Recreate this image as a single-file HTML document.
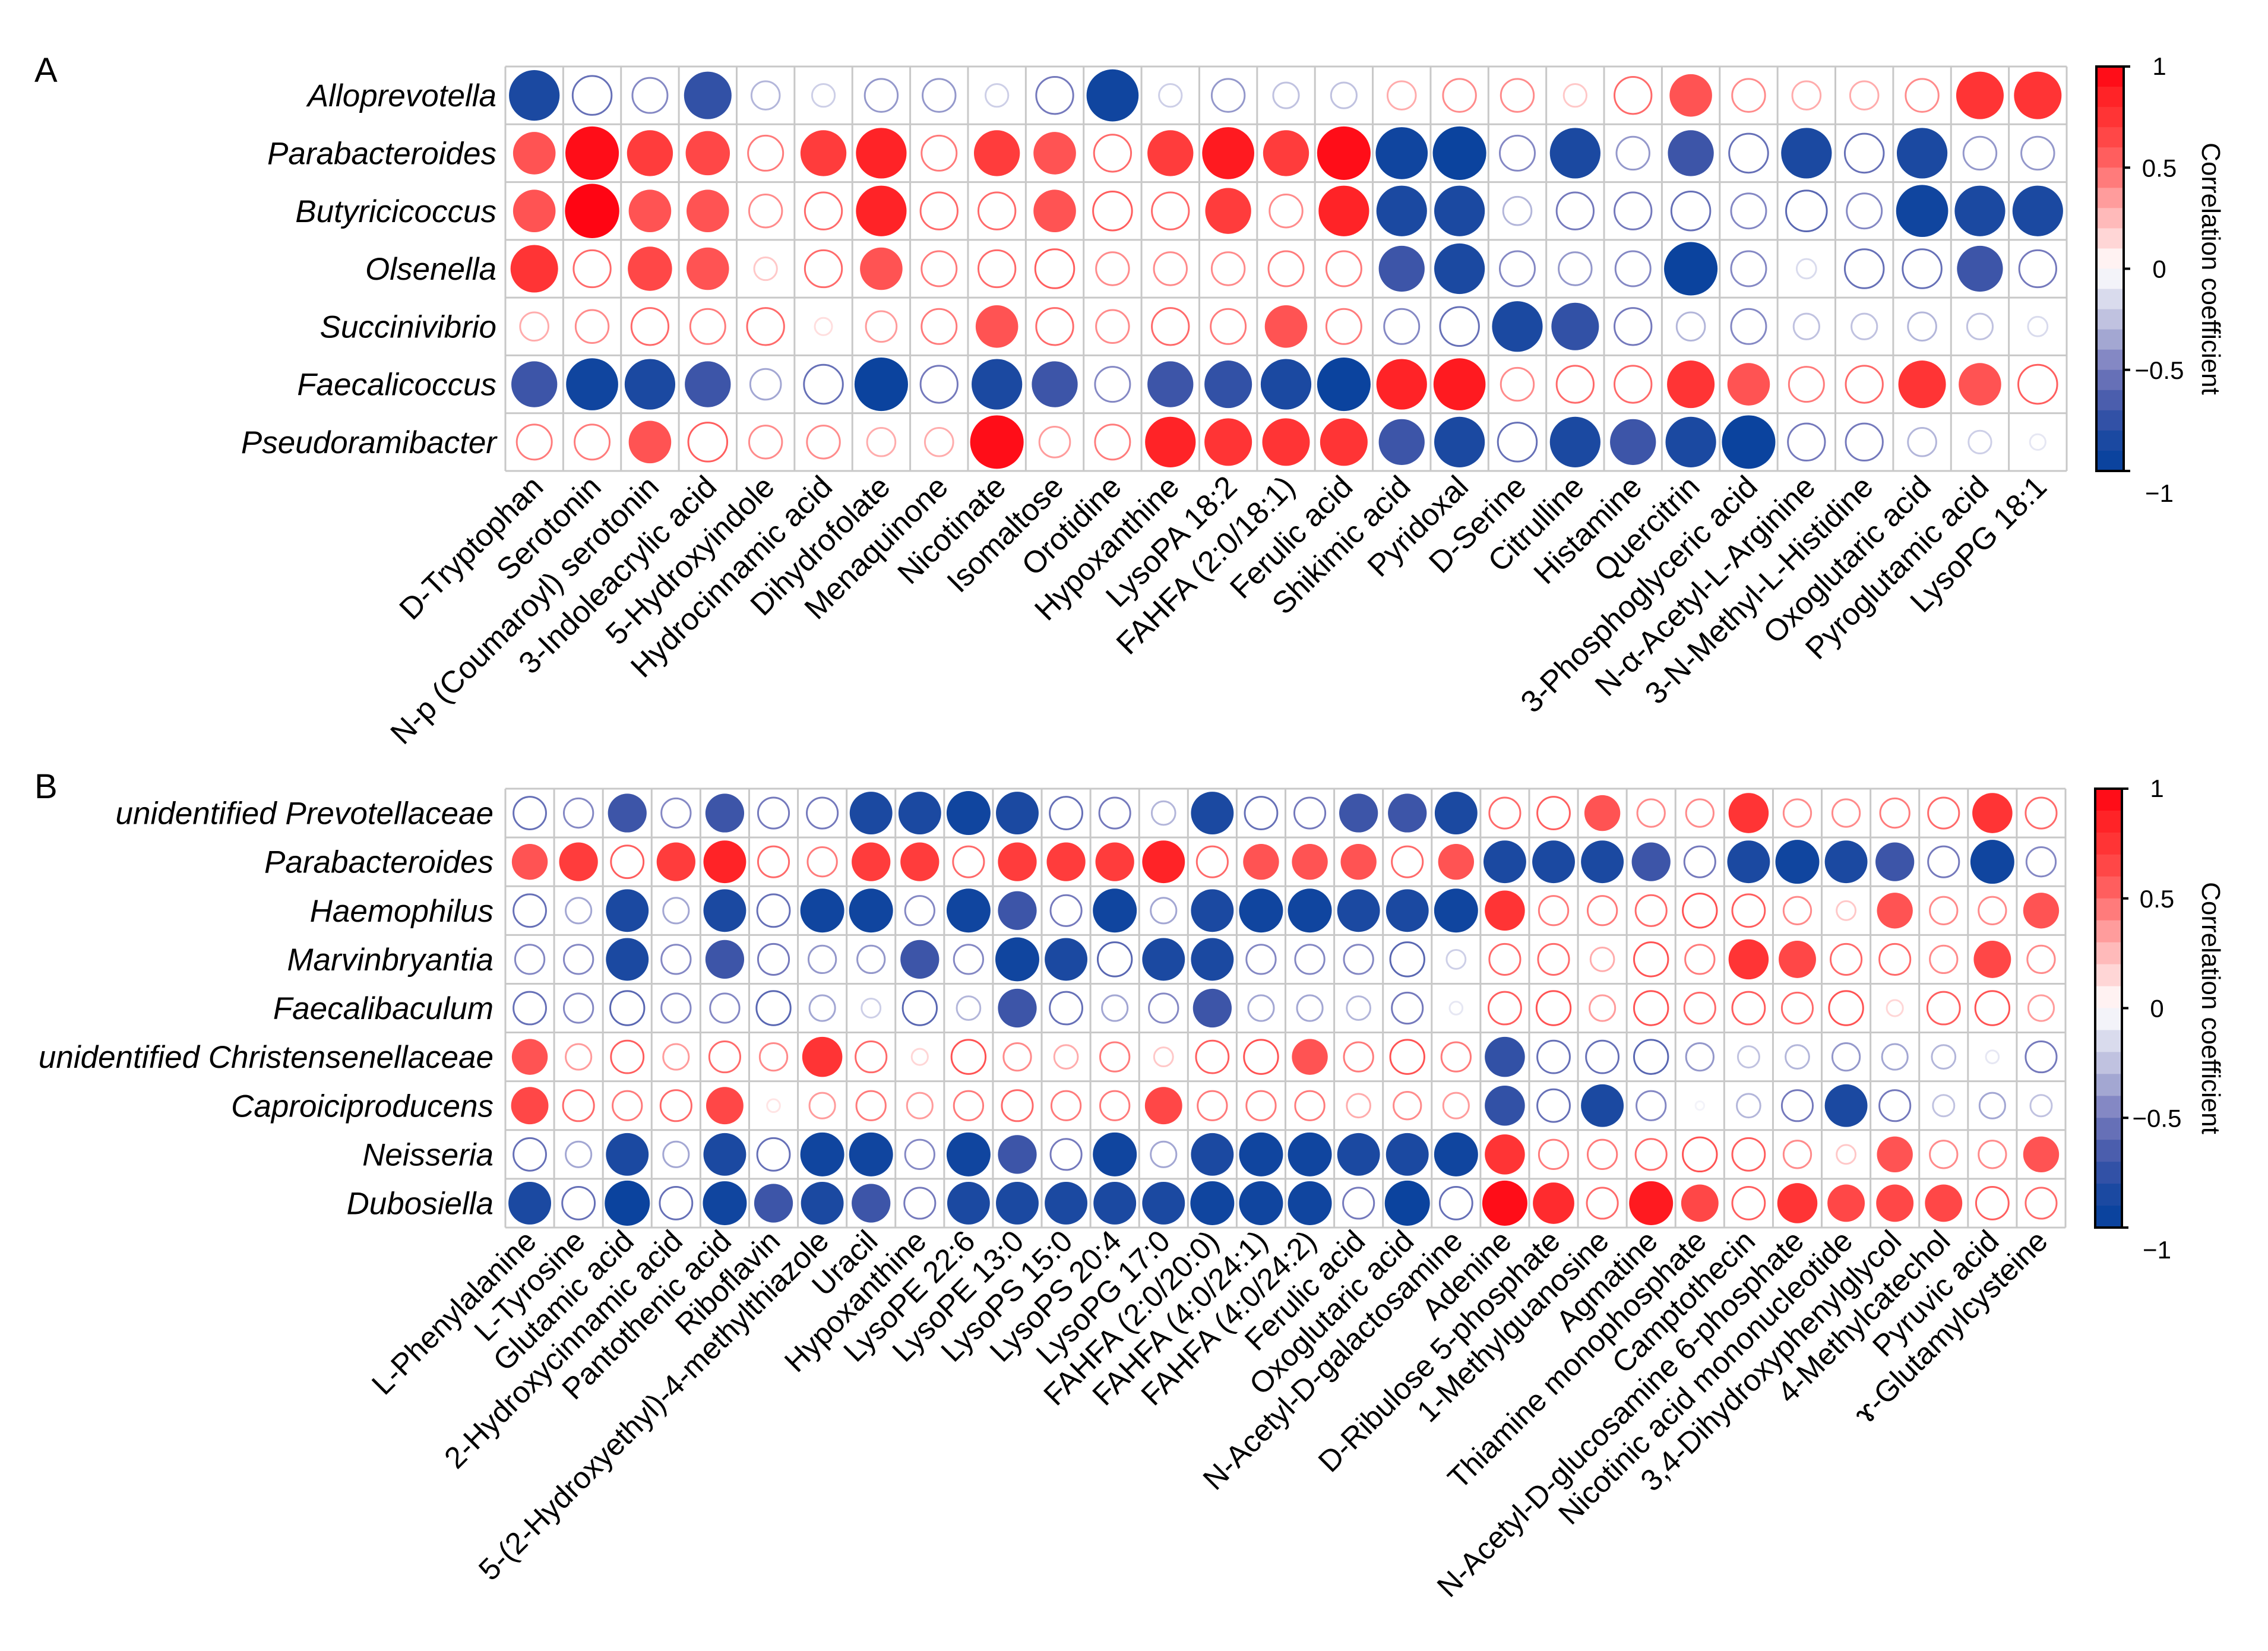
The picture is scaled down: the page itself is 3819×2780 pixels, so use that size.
<!DOCTYPE html>
<html><head><meta charset="utf-8">
<style>
html,body{margin:0;padding:0;background:#fff;}
svg{display:block;font-family:"Liberation Sans",Arial,sans-serif;}
</style></head>
<body>
<svg id="chart" xmlns="http://www.w3.org/2000/svg" width="3819" height="2780" viewBox="0 0 3819 2780">
<rect width="3819" height="2780" fill="#fff"/>
<text x="58" y="138" font-size="58">A</text>
<text x="58" y="1344" font-size="58">B</text>
<g id="pa"></g>
<g id="pb"></g>
</svg>
<script>
// ---------- Panel A data ----------
const rowsA = ["Alloprevotella","Parabacteroides","Butyricicoccus","Olsenella","Succinivibrio","Faecalicoccus","Pseudoramibacter"];
const colsA = ["D-Tryptophan","Serotonin","N-p (Coumaroyl) serotonin","3-Indoleacrylic acid","5-Hydroxyindole","Hydrocinnamic acid","Dihydrofolate","Menaquinone","Nicotinate","Isomaltose","Orotidine","Hypoxanthine","LysoPA 18:2","FAHFA (2:0/18:1)","Ferulic acid","Shikimic acid","Pyridoxal","D-Serine","Citrulline","Histamine","Quercitrin","3-Phosphoglyceric acid","N-\u03b1-Acetyl-L-Arginine","3-N-Methyl-L-Histidine","Oxoglutaric acid","Pyroglutamic acid","LysoPG 18:1"];
const valsA1 = [-0.85,-0.55,-0.45,-0.75,-0.3,-0.2,-0.4,-0.4,-0.2,-0.5,-0.9,-0.2,-0.4,-0.25,-0.25,0.3,0.4,0.4,0.2,0.5,0.6,0.4,0.3,0.3,0.4,0.75,0.75];
const valsA2 = [0.6,0.95,0.7,0.65,0.45,0.7,0.85,0.45,0.7,0.6,0.5,0.7,0.9,0.7,0.95,-0.9,-0.95,-0.45,-0.85,-0.4,-0.7,-0.55,-0.85,-0.55,-0.85,-0.4,-0.4];
const valsA3 = [0.6,0.98,0.6,0.6,0.4,0.5,0.85,0.5,0.5,0.6,0.55,0.5,0.7,0.4,0.85,-0.85,-0.85,-0.3,-0.5,-0.5,-0.55,-0.45,-0.6,-0.45,-0.9,-0.85,-0.85];
const valsA4 = [0.75,0.5,0.65,0.6,0.2,0.5,0.6,0.45,0.5,0.55,0.4,0.4,0.4,0.45,0.45,-0.7,-0.85,-0.45,-0.4,-0.45,-0.95,-0.45,-0.15,-0.55,-0.55,-0.7,-0.5];
const valsA5 = [0.3,0.4,0.5,0.45,0.5,0.12,0.35,0.45,0.6,0.5,0.4,0.5,0.45,0.6,0.45,-0.45,-0.55,-0.85,-0.75,-0.5,-0.3,-0.45,-0.25,-0.25,-0.3,-0.25,-0.15];
const valsA6 = [-0.7,-0.9,-0.85,-0.7,-0.35,-0.55,-0.95,-0.5,-0.85,-0.7,-0.45,-0.7,-0.75,-0.85,-0.95,0.85,0.9,0.4,0.5,0.5,0.75,0.6,0.45,0.5,0.75,0.6,0.55];
const valsA7 = [0.45,0.45,0.6,0.55,0.4,0.4,0.3,0.3,0.95,0.35,0.45,0.85,0.75,0.75,0.75,-0.7,-0.85,-0.55,-0.85,-0.7,-0.85,-0.95,-0.5,-0.5,-0.3,-0.2,-0.1];
// significance (1 = filled)
const sigA1 = "100100000010000000001000011";
const sigA2 = "111101101101111110101010100";
const sigA3 = "111100100100101110000000111";
const sigA4 = "101100100000000110001000010";
const sigA5 = "000000001000010001100000000";
const sigA6 = "111100101101111110001100110";
const sigA7 = "001000001001111110111100000";

// ---------- Panel B data ----------
const rowsB = ["unidentified Prevotellaceae","Parabacteroides","Haemophilus","Marvinbryantia","Faecalibaculum","unidentified Christensenellaceae","Caproiciproducens","Neisseria","Dubosiella"];
const colsB = ["L-Phenylalanine","L-Tyrosine","Glutamic acid","2-Hydroxycinnamic acid","Pantothenic acid","Riboflavin","5-(2-Hydroxyethyl)-4-methylthiazole","Uracil","Hypoxanthine","LysoPE 22:6","LysoPE 13:0","LysoPS 15:0","LysoPS 20:4","LysoPG 17:0","FAHFA (2:0/20:0)","FAHFA (4:0/24:1)","FAHFA (4:0/24:2)","Ferulic acid","Oxoglutaric acid","N-Acetyl-D-galactosamine","Adenine","D-Ribulose 5-phosphate","1-Methylguanosine","Agmatine","Thiamine monophosphate","Camptothecin","N-Acetyl-D-glucosamine 6-phosphate","Nicotinic acid mononucleotide","3,4-Dihydroxyphenylglycol","4-Methylcatechol","Pyruvic acid","\u0264-Glutamylcysteine"];
const valsB1 = [-0.55,-0.45,-0.7,-0.45,-0.7,-0.5,-0.5,-0.85,-0.85,-0.9,-0.85,-0.55,-0.5,-0.3,-0.85,-0.55,-0.5,-0.7,-0.7,-0.85,0.5,0.55,0.6,0.4,0.4,0.75,0.4,0.4,0.45,0.5,0.75,0.5];
const valsB2 = [0.6,0.7,0.55,0.7,0.85,0.5,0.45,0.7,0.7,0.5,0.7,0.7,0.7,0.85,0.5,0.6,0.6,0.6,0.5,0.6,-0.85,-0.85,-0.85,-0.7,-0.5,-0.85,-0.9,-0.85,-0.7,-0.5,-0.9,-0.45];
const valsB3 = [-0.55,-0.35,-0.85,-0.35,-0.85,-0.55,-0.9,-0.9,-0.45,-0.9,-0.7,-0.5,-0.9,-0.35,-0.85,-0.9,-0.9,-0.85,-0.85,-0.9,0.75,0.45,0.45,0.5,0.6,0.55,0.4,0.2,0.6,0.4,0.4,0.6];
const valsB4 = [-0.45,-0.45,-0.85,-0.45,-0.7,-0.5,-0.4,-0.4,-0.7,-0.45,-0.9,-0.85,-0.6,-0.85,-0.85,-0.45,-0.45,-0.45,-0.6,-0.2,0.5,0.5,0.3,0.6,0.45,0.75,0.65,0.5,0.5,0.4,0.65,0.4];
const valsB5 = [-0.55,-0.45,-0.6,-0.45,-0.45,-0.6,-0.35,-0.2,-0.6,-0.3,-0.7,-0.55,-0.35,-0.45,-0.7,-0.35,-0.35,-0.3,-0.5,-0.1,0.55,0.6,0.35,0.6,0.5,0.55,0.5,0.6,0.15,0.55,0.6,0.35];
const valsB6 = [0.6,0.35,0.55,0.35,0.5,0.4,0.75,0.5,0.15,0.6,0.4,0.3,0.45,0.2,0.55,0.6,0.6,0.45,0.6,0.45,-0.75,-0.55,-0.55,-0.6,-0.4,-0.25,-0.3,-0.4,-0.35,-0.3,-0.1,-0.5];
const valsB7 = [0.65,0.5,0.45,0.5,0.65,0.1,0.35,0.45,0.35,0.45,0.5,0.45,0.45,0.65,0.45,0.45,0.45,0.3,0.4,0.35,-0.75,-0.55,-0.85,-0.45,-0.05,-0.3,-0.5,-0.85,-0.5,-0.25,-0.35,-0.25];
const valsB8 = [-0.55,-0.35,-0.85,-0.35,-0.85,-0.55,-0.9,-0.9,-0.45,-0.9,-0.7,-0.5,-0.9,-0.35,-0.85,-0.9,-0.9,-0.85,-0.85,-0.9,0.75,0.45,0.45,0.5,0.6,0.55,0.4,0.2,0.6,0.4,0.4,0.6];
const valsB9 = [-0.85,-0.55,-0.95,-0.55,-0.9,-0.7,-0.85,-0.7,-0.5,-0.85,-0.85,-0.85,-0.85,-0.85,-0.9,-0.9,-0.9,-0.5,-0.95,-0.55,0.95,0.8,0.5,0.9,0.65,0.55,0.75,0.65,0.65,0.65,0.55,0.5];
const sigB1 = "00101001111000100111001001000010";
const sigB2 = "11011001101111011101111101111010";
const sigB3 = "00101011011010111111100000001001";
const sigB4 = "00101000101101100000000001100010";
const sigB5 = "00000000001000100000000000000000";
const sigB6 = "10000010000000001000100000000000";
const sigB7 = "10001000000001000000101000010000";
const sigB8 = "00101011011010111111100000001001";
const sigB9 = "10101111011111111010110110111100";

const ticks = [1,0.5,0,-0.5,-1];
const tickLabels = ["1","0.5","0","\u22120.5","\u22121"];

const NS = "http://www.w3.org/2000/svg";
function mk(tag, attrs, parent){const e=document.createElementNS(NS,tag);for(const k in attrs)e.setAttribute(k,attrs[k]);parent.appendChild(e);return e;}
function hex(c){return [parseInt(c.slice(1,3),16),parseInt(c.slice(3,5),16),parseInt(c.slice(5,7),16)];}
const negStops=[[0,"#ffffff"],[0.1,"#e6e7f3"],[0.3,"#b3b6da"],[0.5,"#7479bc"],[0.7,"#3d55a8"],[0.9,"#10459f"],[1,"#05409d"]];
const posStops=[[0,"#ffffff"],[0.1,"#ffe4e4"],[0.3,"#ffacac"],[0.5,"#ff6a6a"],[0.7,"#ff3c3c"],[0.9,"#ff1a20"],[1,"#ff0010"]];
function color(v){
  const s=v<0?negStops:posStops;const a=Math.min(1,Math.abs(v));
  for(let i=1;i<s.length;i++){if(a<=s[i][0]){const t=(a-s[i-1][0])/(s[i][0]-s[i-1][0]);const c0=hex(s[i-1][1]),c1=hex(s[i][1]);
    return "rgb("+c0.map((c,j)=>Math.round(c+(c1[j]-c)*t)).join(",")+")";}}
  return s[s.length-1][1];
}

function panel(g, cfg){
  const {rows, cols, vals, sigs, x0, x1, y0, y1, rowFont, rowX, colFont, cbX, cbW, labX, titleX, dxL, dyL} = cfg;
  const cw=(x1-x0)/cols.length, ch=(y1-y0)/rows.length;
  const xs=i=>x0+(i+0.5)*cw, ys=j=>y0+(j+0.5)*ch;
  for(let i=0;i<=cols.length;i++){const l=mk("line",{x1:x0+i*cw,x2:x0+i*cw,y1:y0,y2:y1,stroke:"#c8c8c8","stroke-width":3},g);
    
    }
  for(let j=0;j<=rows.length;j++){const l=mk("line",{x1:x0,x2:x1,y1:y0+j*ch,y2:y0+j*ch,stroke:"#c8c8c8","stroke-width":3},g);
    
    }
  rows.forEach((rn,j)=>{
    const t=mk("text",{x:rowX,y:ys(j)+rowFont*0.35,"font-size":rowFont,"font-style":"italic","text-anchor":"end"},g);
    t.textContent=rn;
    
    
    vals[j].forEach((v,i)=>{
      const r=Math.min(cw,ch)*0.475*Math.sqrt(Math.abs(v));
      const filled=sigs[j][i]==="1";
      const c=mk("circle",{cx:xs(i),cy:ys(j),r:filled?r:Math.max(1,r-1.5),fill:filled?color(v):"none",stroke:color(v),"stroke-width":filled?0:3},g);
      
      
    });
  });
  cols.forEach((cn,i)=>{
    const x=xs(i)+dxL, y=y1+dyL;
    const t=mk("text",{x:x,y:y,"font-size":colFont,"text-anchor":"end",transform:"rotate(-45 "+x+" "+y+")"},g);
    t.textContent=cn;
    
    
  });
  const n=20, bh=(y1-y0)/n;
  for(let k=0;k<n;k++){const v=1-(k+0.5)*2/n;
    const b=mk("rect",{x:cbX,y:y0+k*bh,width:cbW,height:bh+0.8,fill:color(v)},g);
    
    }
  const fr=mk("rect",{x:cbX,y:y0,width:cbW,height:y1-y0,fill:"none",stroke:"#000","stroke-width":4},g);
  
  
  const cy=v=>y0+(1-v)/2*(y1-y0);
  ticks.forEach((v,k)=>{
    const tk=mk("line",{x1:cbX+cbW,x2:cbX+cbW+11,y1:cy(v),y2:cy(v),stroke:"#000","stroke-width":4},g);
    
    
    let yy=cy(v)+15; if(v===-1) yy=cy(v)+52; if(v===1) yy=cy(v)+14;
    const t=mk("text",{x:labX,y:yy,"font-size":42,"text-anchor":"middle"},g);
    t.textContent=tickLabels[k];
    
    
  });
  const my=(y0+y1)/2;
  const tt=mk("text",{x:titleX,y:my,"font-size":44,"text-anchor":"middle",transform:"rotate(90 "+titleX+" "+my+")"},g);
  tt.textContent="Correlation coefficient";
  
  
}

panel(document.getElementById("pa"),{rows:rowsA,cols:colsA,
  vals:[valsA1,valsA2,valsA3,valsA4,valsA5,valsA6,valsA7],
  sigs:[sigA1,sigA2,sigA3,sigA4,sigA5,sigA6,sigA7],
  x0:851,x1:3480,y0:112,y1:793,rowFont:53,rowX:836,colFont:52,cbX:3530,cbW:46,labX:3636,titleX:3708,dxL:18,dyL:30});
panel(document.getElementById("pb"),{rows:rowsB,cols:colsB,
  vals:[valsB1,valsB2,valsB3,valsB4,valsB5,valsB6,valsB7,valsB8,valsB9],
  sigs:[sigB1,sigB2,sigB3,sigB4,sigB5,sigB6,sigB7,sigB8,sigB9],
  x0:851,x1:3478,y0:1328,y1:2067,rowFont:53,rowX:831,colFont:51,cbX:3528,cbW:45,labX:3632,titleX:3708,dxL:14,dyL:26});
</script>
</body></html>
